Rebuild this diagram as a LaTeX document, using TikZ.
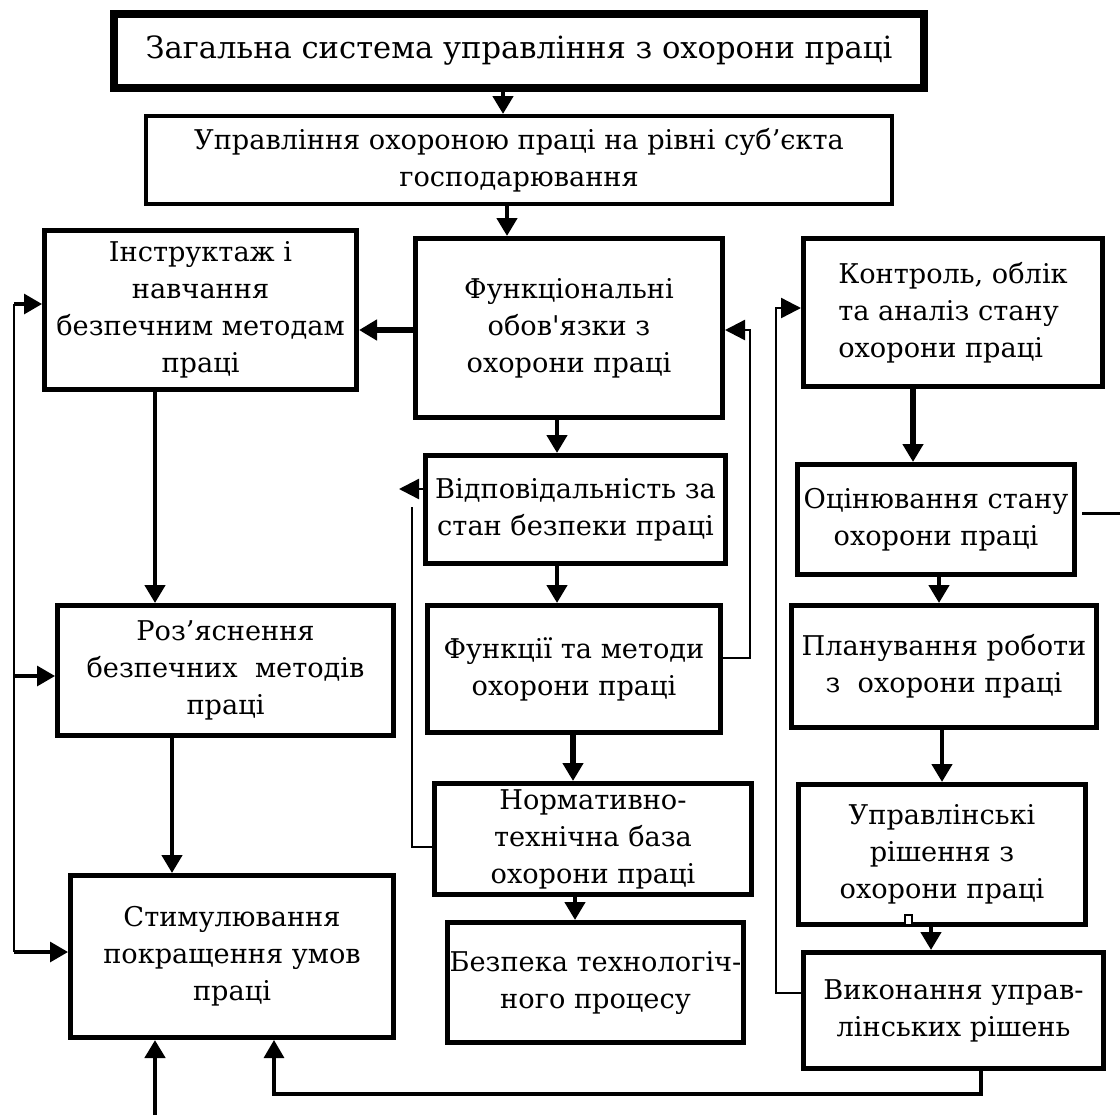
\documentclass[tikz,border=0pt]{standalone}
\usepackage{fontspec}
\defaultfontfeatures[\rmfamily]{}
\setmainfont{DejaVu Serif}
\usetikzlibrary{arrows.meta}

\begin{document}
\begin{tikzpicture}[x=0.5pt, y=-0.5pt,
		bx/.style 2 args={draw, line width=2.5pt, inner sep=0pt, align=center,
			minimum width=#1*0.5pt, minimum height=#2*0.5pt,
			font=\fontsize{13.6pt}{18.5pt}\selectfont},
		arr/.style={line width=2.2pt, -{Triangle[length=9pt, width=10pt]}},
		thickarr/.style={arr, line width=3.4pt},
		stub/.style={arr, line width=1.6pt},
		fb/.style={line width=1.2pt},
		fbarr/.style={fb, -{Triangle[length=10pt, width=10pt]}}]
	\useasboundingbox (0,0) rectangle (1120,1115);
	
	% Blocks
	\node[bx={810}{74}, line width=4pt, font=\fontsize{15.3pt}{18pt}\selectfont] (top) at (519,51) {Загальна система управління з охорони праці};
	\node[bx={746}{88}, line width=2pt] (subj) at (519,160) {Управління охороною праці на рівні суб’єкта\\господарювання};
	\node[bx={312}{159}] (instr) at (200.5,310) {Інструктаж і\\навчання\\безпечним методам\\праці};
	\node[bx={307}{179}] (func) at (569,328) {Функціональні\\обов'язки з\\охорони праці};
	\node[bx={299}{148}, align=left] (ctrl) at (953,312.5) {Контроль, облік\\та аналіз стану\\охорони праці};
	\node[bx={300}{108}] (resp) at (575.5,509.5) {Відповідальність за\\стан безпеки праці};
	\node[bx={277}{110}] (eval) at (936,519.5) {Оцінювання стану\\охорони праці};
	\node[bx={336}{130}] (expl) at (225.5,670.5) {Роз’яснення\\безпечних~ методів\\праці};
	\node[bx={293}{127}] (meth) at (574,669) {Функції та методи\\охорони праці};
	\node[bx={305}{122}] (plan) at (944,666.5) {Планування роботи\\з~ охорони праці};
	\node[bx={317}{111}] (norm) at (593,839) {Нормативно-\\технічна база\\охорони праці};
	\node[bx={287}{140}] (dec) at (942,854.5) {Управлінські\\рішення з\\охорони праці};
	\node[bx={323}{162}] (stim) at (232,956.5) {Стимулювання\\покращення умов\\праці};
	\node[bx={296}{120}] (safe) at (595.5,982.5) {Безпека технологіч-\\ного процесу};
	\node[bx={300}{116}] (exec) at (953.5,1010.5) {Виконання управ-\\лінських рішень};
	\draw[line width=0.6pt, fill=white] (905,915) rectangle (912,925);
	
	% Main arrows
	\draw[arr] (top.south -| 503,0) -- (subj.north -| 503,0);
	\draw[arr] (subj.south -| 507,0) -- (func.north -| 507,0);
	\draw[thickarr] (func.west |- 0,330) -- (instr.east |- 0,330);
	\draw[arr] (func.south -| 557,0) -- (resp.north -| 557,0);
	\draw[arr] (resp.south -| 557,0) -- (meth.north -| 557,0);
	\draw[thickarr] (meth.south -| 573,0) -- (norm.north -| 573,0);
	\draw[arr] (norm.south -| 575,0) -- (safe.north -| 575,0);
	\draw[arr] (instr.south -| 155,0) -- (expl.north -| 155,0);
	\draw[arr] (expl.south -| 172,0) -- (stim.north -| 172,0);
	\draw[thickarr] (ctrl.south -| 913,0) -- (eval.north -| 913,0);
	\draw[arr] (eval.south -| 939,0) -- (plan.north -| 939,0);
	\draw[arr] (plan.south -| 942,0) -- (dec.north -| 942,0);
	\draw[arr] (dec.south -| 931,0) -- (exec.north -| 931,0);
	
	% Feedback lines
	\draw[fbarr] (meth.east |- 0,658) -| (750,330) -- (func.east |- 0,330);
	\coordinate (rtip) at (399,489);
	\draw[fb] (norm.west |- 0,847) -| (412,507);
	\draw[fbarr] (resp.west |- rtip) -- (rtip);
	\draw[fbarr] (exec.west |- 0,993) -| (776,308) -- (ctrl.west |- 0,308);
	
	% Left bus
	\coordinate (b1) at (14,304);
	\coordinate (b2) at (14,676);
	\coordinate (b3) at (14,952);
	\draw[fb] (b1) -- (b3);
	\draw[stub] (b1) -- (instr.west |- b1);
	\draw[stub] (b2) -- (expl.west |- b2);
	\draw[stub] (b3) -- (stim.west |- b3);
	
	% Bottom
	\coordinate (in1) at (155,1115);
	\draw[arr] (in1) -- (stim.south -| in1);
	\draw[stub] (exec.south -| 981,0) |- (274,1094) -- (stim.south -| 274,0);
	\coordinate (evout) at (1120,513);
	\draw[fb, line width=1.5pt] (eval.east |- evout) ++(5,0) -- (evout);
\end{tikzpicture}
\end{document}
